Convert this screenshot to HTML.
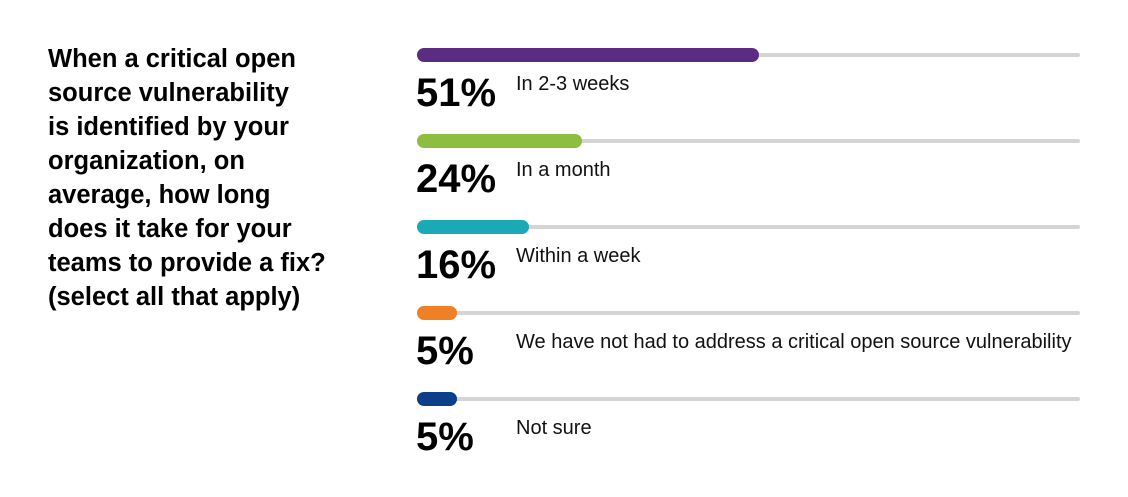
<!DOCTYPE html>
<html><head><style>
body{margin:0;width:1128px;height:497px;background:#fff;font-family:"Liberation Sans",Arial,sans-serif;position:relative;overflow:hidden}
.q{position:absolute;left:48px;font-weight:bold;font-size:25.5px;color:#000;white-space:nowrap;line-height:1}
.track{position:absolute;left:417px;width:663px;height:4px;background:#d4d4d4;border-radius:2px}
.bar{position:absolute;left:417px;height:14px;border-radius:7px}
.pct{position:absolute;left:416px;font-weight:bold;font-size:40px;line-height:1;color:#000}
.lab{position:absolute;left:516px;font-size:20px;line-height:1;color:#111}
</style></head><body>
<div class="q" style="top:47px">When a critical open</div>
<div class="q" style="top:81px">source vulnerability</div>
<div class="q" style="top:115px">is identified by your</div>
<div class="q" style="top:149px">organization, on</div>
<div class="q" style="top:183px">average, how long</div>
<div class="q" style="top:217px">does it take for your</div>
<div class="q" style="top:251px">teams to provide a fix?</div>
<div class="q" style="top:285px">(select all that apply)</div>

<div class="track" style="top:53px"></div><div class="bar" style="top:48px;width:342px;background:#5b2d82"></div>
<div class="pct" style="top:73px">51%</div><div class="lab" style="top:74px">In 2-3 weeks</div>

<div class="track" style="top:139px"></div><div class="bar" style="top:134px;width:165px;background:#8dbe3f"></div>
<div class="pct" style="top:159px">24%</div><div class="lab" style="top:160px">In a month</div>

<div class="track" style="top:225px"></div><div class="bar" style="top:220px;width:112px;background:#1ba9b8"></div>
<div class="pct" style="top:245px">16%</div><div class="lab" style="top:246px">Within a week</div>

<div class="track" style="top:311px"></div><div class="bar" style="top:306px;width:40px;background:#ef8025"></div>
<div class="pct" style="top:331px">5%</div><div class="lab" style="top:332px">We have not had to address a critical open source vulnerability</div>

<div class="track" style="top:397px"></div><div class="bar" style="top:392px;width:40px;background:#0b3f8a"></div>
<div class="pct" style="top:417px">5%</div><div class="lab" style="top:418px">Not sure</div>
</body></html>
